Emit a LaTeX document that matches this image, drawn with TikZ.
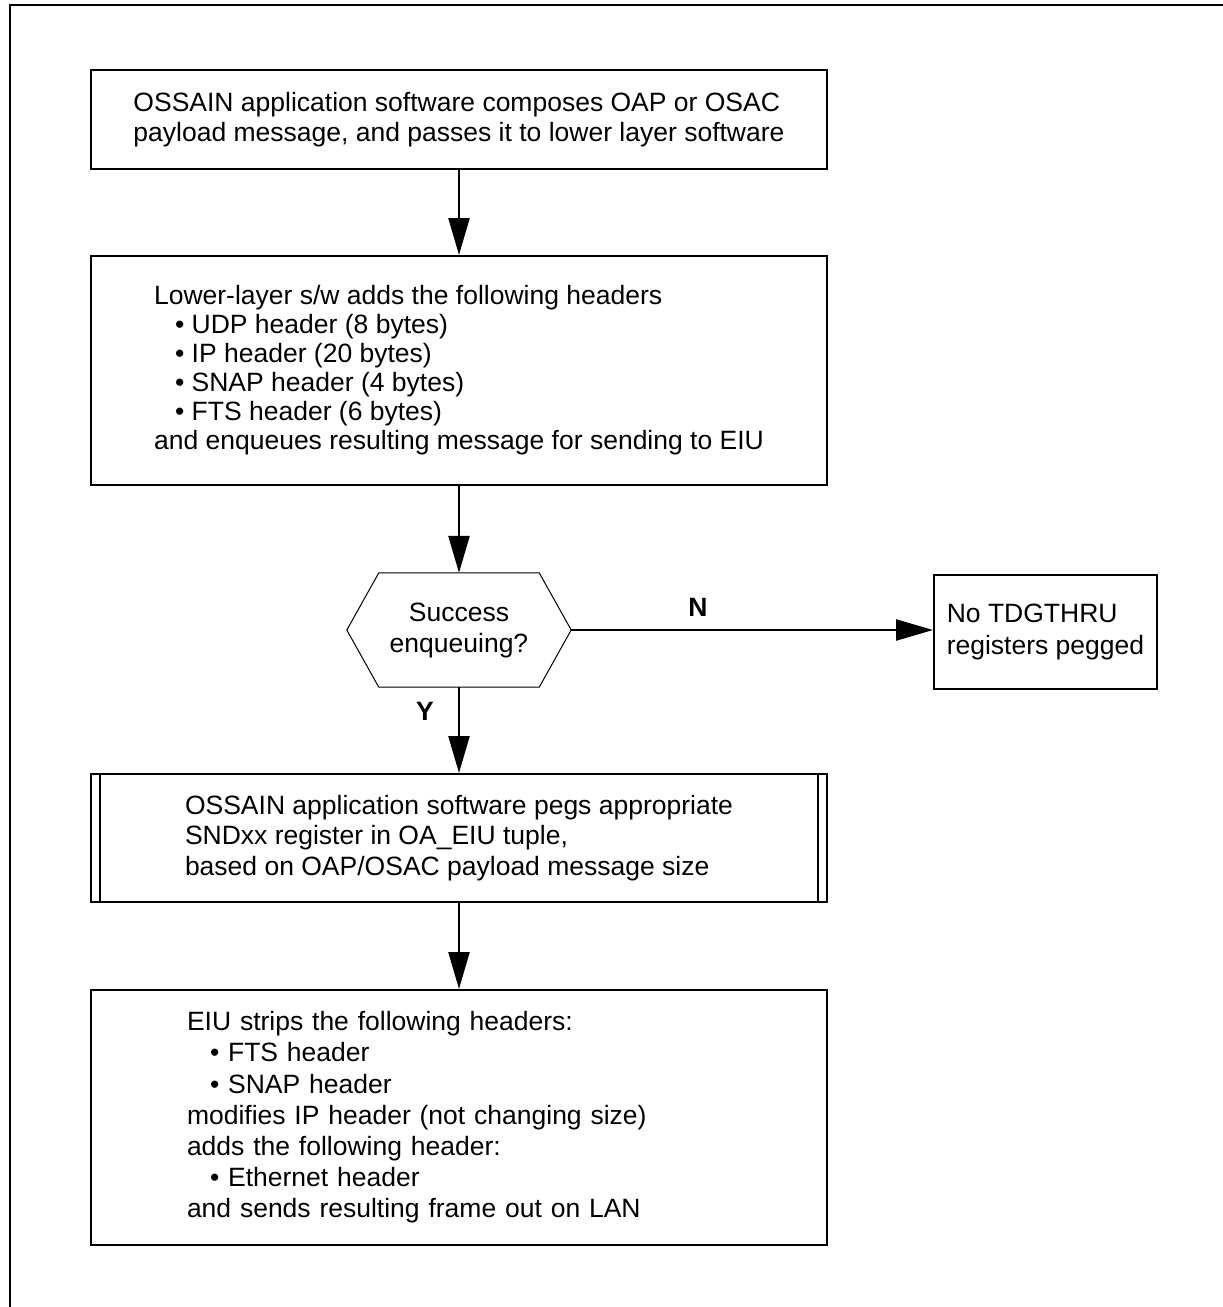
\documentclass[tikz,border=0pt]{standalone}
\usepackage{fontspec}
\setmainfont{Liberation Sans}
\usetikzlibrary{arrows.meta}
\begin{document}
\begin{tikzpicture}[x=1pt,y=-1pt,
  boxstyle/.style={draw, line width=2pt, rectangle, minimum width=736pt, inner sep=0pt, align=left, font=\fontsize{26.5}{30.5}\selectfont},
  smallbox/.style={draw, line width=2pt, rectangle, inner sep=0pt, align=left, font=\fontsize{26.5}{32}\selectfont},
  decstyle/.style={rectangle, inner sep=0pt, minimum width=224pt, minimum height=114pt, align=center, font=\fontsize{26.5}{31}\selectfont},
  hexline/.style={line width=1pt, line join=miter},
  flow/.style={line width=2.5pt, -{Triangle[length=37pt,width=21pt]}},
  lbl/.style={font=\fontsize{26.5}{30}\selectfont\bfseries, inner sep=0pt}
]
\useasboundingbox (0,0) rectangle (1223,1307);
% outer frame (top and left edges)
\draw[line width=2pt] (10,1307) -- (10,5) -- (1223,5);

\node[boxstyle, minimum height=99pt] (b1) at (459,119.5)
  {OSSAIN application software composes OAP or OSAC\\payload message, and passes it to lower layer software};

\node[boxstyle, minimum height=229pt, font=\fontsize{26.5}{29}\selectfont] (b2) at (459,370.5)
  {Lower-layer s/w adds the following headers\\
   \hspace*{21pt}• UDP header (8 bytes)\\
   \hspace*{21pt}• IP header (20 bytes)\\
   \hspace*{21pt}• SNAP header (4 bytes)\\
   \hspace*{21pt}• FTS header (6 bytes)\\
   and enqueues resulting message for sending to EIU};

\node[decstyle] (dec) at (459,630) {Success\\enqueuing?};
\draw[hexline] (dec.west) -- ([xshift=32pt]dec.north west) -- ([xshift=-32pt]dec.north east)
  -- (dec.east) -- ([xshift=-32pt]dec.south east) -- ([xshift=32pt]dec.south west) -- cycle;

\node[smallbox, minimum width=223pt, minimum height=114pt] (rb) at (1045.5,632)
  {No TDGTHRU\\registers pegged};

\node[boxstyle, minimum height=128pt] (b4) at (459,838)
  {OSSAIN application software pegs appropriate\\SNDxx register in OA\_EIU tuple,\\based on OAP/OSAC payload message size};
\draw[line width=2pt] ([xshift=10pt]b4.north west) -- ([xshift=10pt]b4.south west);
\draw[line width=2pt] ([xshift=-10pt]b4.north east) -- ([xshift=-10pt]b4.south east);

\node[boxstyle, minimum height=255pt, text width=544pt, inner xsep=96pt, font=\fontsize{26.5}{31.2}\selectfont] (b5) at (459,1117.5)
  {EIU strips the following headers:\\
   \hspace*{23pt}• FTS header\\
   \hspace*{23pt}• SNAP header\\
   modifies IP header (not changing size)\\
   adds the following header:\\
   \hspace*{23pt}• Ethernet header\\
   and sends resulting frame out on LAN};

\draw[flow] (b1.south) -- (b2.north);
\draw[flow] (b2.south) -- (dec.north);
\draw[flow] (dec.south) -- node[lbl, pos=0.28, xshift=-34pt] {Y} (b4.north);
\draw[flow] (dec.east) -- node[lbl, pos=0.35, yshift=23pt] {N} (dec.east -| rb.west);
\draw[flow] (b4.south) -- (b5.north);
\end{tikzpicture}
\end{document}
